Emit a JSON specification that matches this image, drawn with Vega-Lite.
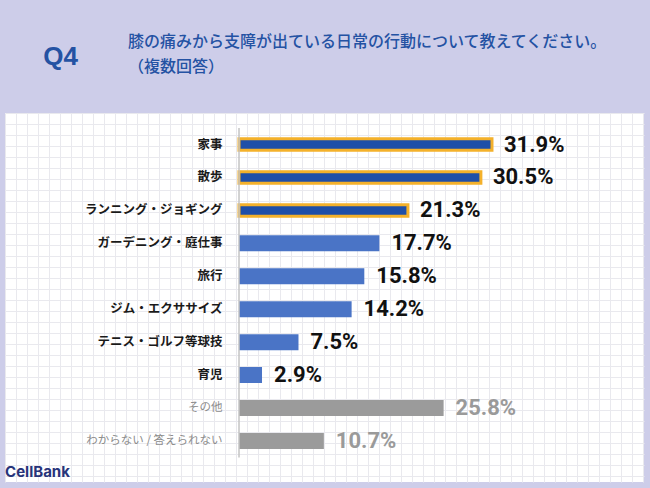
{
  "$schema": "https://vega.github.io/schema/vega-lite/v6.json",
  "width": 639,
  "height": 369,
  "autosize": {"type": "none"},
  "padding": {"left": 5, "top": 113, "right": 6, "bottom": 6},
  "background": "#cdcde9",
  "config": {"view": {"fill": "white", "stroke": null}, "font": "Noto Sans CJK JP"},
  "title": {
    "text": "膝の痛みから支障が出ている日常の行動について教えてください。",
    "subtitle": "（複数回答）",
    "anchor": "start",
    "frame": "group",
    "dx": 123,
    "dy": 32,
    "offset": 0,
    "fontSize": 16,
    "fontWeight": 500,
    "color": "#2452a3",
    "font": "Noto Sans CJK JP",
    "subtitleFontSize": 16,
    "subtitleFontWeight": 500,
    "subtitleColor": "#2452a3",
    "subtitleFont": "Noto Sans CJK JP",
    "subtitlePadding": 9.5
  },
  "data": {
    "values": [
      {"item": "家事", "value": 0.319, "group": "top3"},
      {"item": "散歩", "value": 0.305, "group": "top3"},
      {"item": "ランニング・ジョギング", "value": 0.213, "group": "top3"},
      {"item": "ガーデニング・庭仕事", "value": 0.177, "group": "rest"},
      {"item": "旅行", "value": 0.158, "group": "rest"},
      {"item": "ジム・エクササイズ", "value": 0.142, "group": "rest"},
      {"item": "テニス・ゴルフ等球技", "value": 0.075, "group": "rest"},
      {"item": "育児", "value": 0.029, "group": "rest"},
      {"item": "その他", "value": 0.258, "group": "nonanswer"},
      {"item": "わからない / 答えられない", "value": 0.107, "group": "nonanswer"}
    ]
  },
  "layer": [
    {
      "mark": {"type": "point", "opacity": 0},
      "encoding": {
        "x": {"datum": 0, "type": "quantitative", "scale": {"domain": [0, 58.09], "nice": false}, "axis": {"orient": "top", "grid": true, "labels": false, "ticks": false, "domain": false, "title": null, "tickCount": 60, "gridColor": "#e9e9ee", "gridWidth": 1}},
        "y": {"datum": 0, "type": "quantitative", "scale": {"domain": [0, 33.545], "nice": false, "reverse": true}, "axis": {"orient": "right", "grid": true, "labels": false, "ticks": false, "domain": false, "title": null, "tickCount": 35, "gridColor": "#e9e9ee", "gridWidth": 1}}
      }
    },
    {
      "layer": [
        {
          "mark": {"type": "bar"},
          "encoding": {
            "y": {
              "field": "item", "type": "nominal", "sort": null,
              "scale": {"paddingInner": 0.5, "paddingOuter": 0.851, "align": 0.415},
              "axis": {
                "orient": "left", "offset": -234, "domain": false, "ticks": false, "grid": false,
                "labelPadding": 17, "labelFont": "Noto Sans CJK JP", "labelLimit": 300,
                "labelFontSize": {"condition": {"test": "datum.value === 'その他' || datum.value === 'わからない / 答えられない'", "value": 11.5}, "value": 12.5},
                "labelFontWeight": {"condition": {"test": "datum.value === 'その他' || datum.value === 'わからない / 答えられない'", "value": "normal"}, "value": "bold"},
                "labelColor": {"condition": {"test": "datum.value === 'その他' || datum.value === 'わからない / 答えられない'", "value": "#8c8c8c"}, "value": "#1a1a1a"},
                "title": "Q4", "titleAngle": 0, "titleX": -179, "titleY": -57, "titleAlign": "center", "titleBaseline": "middle",
                "titleFontSize": 26, "titleFont": "Liberation Sans", "titleFontWeight": "bold", "titleColor": "#2452a3"
              }
            },
            "x": {
              "field": "value", "type": "quantitative",
              "scale": {"domain": [-0.2951, 0.5107], "nice": false},
              "axis": {
                "orient": "bottom", "grid": false, "labels": false, "ticks": false, "domain": false,
                "title": "CellBank", "titleX": 32, "titleY": -11, "titleAlign": "center", "titleBaseline": "middle",
                "titleFontSize": 15, "titleFont": "Inter", "titleFontWeight": "bold", "titleColor": "#27347a"
              }
            },
            "color": {"field": "group", "type": "nominal", "scale": {"domain": ["top3", "rest", "nonanswer"], "range": ["#1f4fa8", "#4a74c6", "#9b9b9b"]}, "legend": null},
            "stroke": {"condition": {"test": "datum.group === 'top3'", "value": "#f4b12b"}, "value": "transparent"},
            "strokeWidth": {"condition": {"test": "datum.group === 'top3'", "value": 3}, "value": 0},
            "size": {"condition": {"test": "datum.group === 'top3'", "value": 11.5}, "value": 16}
          }
        },
        {
          "data": {"values": [{}]},
          "mark": {"type": "rule", "color": "#c4c4c4", "strokeWidth": 1.5},
          "encoding": {
            "x": {"datum": 0, "type": "quantitative"},
            "y": {"datum": "家事", "type": "nominal", "bandPosition": -0.5},
            "y2": {"datum": "わからない / 答えられない", "bandPosition": 1.5}
          }
        },
        {
          "mark": {"type": "text", "align": "left", "baseline": "middle", "dx": 12, "fontSize": 22, "fontWeight": "bold", "font": "Roboto"},
          "encoding": {
            "y": {"field": "item", "type": "nominal", "sort": null},
            "x": {"field": "value", "type": "quantitative"},
            "text": {"field": "value", "type": "quantitative", "format": ".1%"},
            "color": {"condition": {"test": "datum.group === 'nonanswer'", "value": "#9a9a9a"}, "value": "#111111"}
          }
        }
      ]
    }
  ],
  "resolve": {"scale": {"x": "independent", "y": "independent"}, "axis": {"x": "independent", "y": "independent"}}
}
